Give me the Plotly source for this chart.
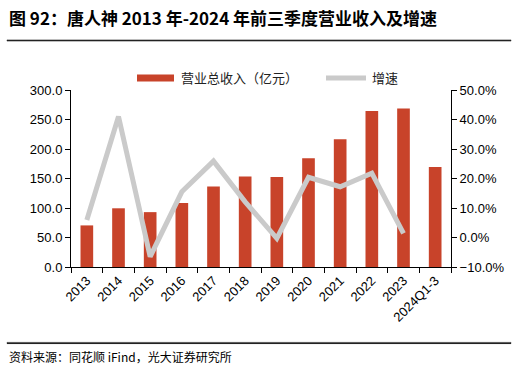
import plotly.graph_objects as go

categories = ["2013", "2014", "2015", "2016", "2017", "2018", "2019", "2020",
              "2021", "2022", "2023", "2024Q1-3"]
revenue = [70.5, 99.5, 93.0, 108.5, 136.5, 153.5, 152.5, 184.5, 216.5, 264.5, 268.5, 169.5]
growth_cats = categories[:11]
growth = [5.9, 41.0, -6.5, 15.5, 25.9, 12.1, -0.3, 20.4, 17.2, 21.8, 1.4]

BAR_COLOR = "#C8432A"
LINE_COLOR = "#CACACA"
CJK = "Noto Sans CJK SC"
LAT = "Liberation Sans"

L, R, T, B = 71, 451, 90, 267
W, H = 516, 376

def px(x):
    return x / W

def py(y):
    return 1 - y / H

XDOM = [px(L), px(R)]
YDOM = [py(B), py(T)]

fig = go.Figure()
fig.add_trace(go.Bar(x=categories, y=revenue, marker=dict(color=BAR_COLOR, line=dict(width=0)),
                     showlegend=False, yaxis="y", hoverinfo="skip"))
fig.add_trace(go.Scatter(x=growth_cats, y=growth, mode="lines",
                         line=dict(color=LINE_COLOR, width=5), showlegend=False, yaxis="y2",
                         hoverinfo="skip"))

fig.update_layout(
    width=W, height=H,
    margin=dict(l=0, r=0, t=0, b=0, pad=0, autoexpand=False),
    paper_bgcolor="white", plot_bgcolor="white",
    bargap=0.6,
    showlegend=False,
    font=dict(family=LAT, size=13, color="black"),
    xaxis=dict(type="category", domain=XDOM, tickangle=-45, showline=True, linecolor="black",
               linewidth=1, ticks="outside", ticklen=5, tickcolor="black", tickson="boundaries",
               showgrid=False, automargin=False, tickfont=dict(family=LAT, size=13)),
    yaxis=dict(range=[0, 300], domain=YDOM, dtick=50, tickformat=".1f", showline=True,
               linecolor="black", linewidth=1, ticks="outside", ticklen=5, tickcolor="black",
               showgrid=False, zeroline=False, automargin=False, tickfont=dict(family=LAT, size=13)),
    yaxis2=dict(range=[-10, 50], dtick=10, ticksuffix="%", tickformat=".1f", overlaying="y",
                side="right", showline=True, linecolor="black", linewidth=1, ticks="outside",
                ticklen=5, tickcolor="black", showgrid=False, zeroline=False, automargin=False,
                tickfont=dict(family=LAT, size=13)),
)

# manual legend
fig.add_shape(type="rect", xref="paper", yref="paper", x0=px(137), x1=px(174), y0=py(81.5), y1=py(74.5),
              fillcolor=BAR_COLOR, line=dict(width=0))
fig.add_annotation(text="营业总收入（亿元）", xref="paper", yref="paper", x=px(179), y=py(78),
                   xanchor="left", yanchor="middle", showarrow=False,
                   font=dict(family=CJK, size=13, color="#222"))
fig.add_shape(type="line", xref="paper", yref="paper", x0=px(326), x1=px(366), y0=py(78), y1=py(78),
              line=dict(color=LINE_COLOR, width=5))
fig.add_annotation(text="增速", xref="paper", yref="paper", x=px(370), y=py(78),
                   xanchor="left", yanchor="middle", showarrow=False,
                   font=dict(family=CJK, size=13, color="#222"))

fig.add_annotation(text="<b>图 92：唐人神 2013 年-2024 年前三季度营业收入及增速</b>",
                   xref="paper", yref="paper", x=px(7), y=py(18), xanchor="left", yanchor="middle",
                   showarrow=False, font=dict(family=CJK, size=17, color="black"))
fig.add_annotation(text="资料来源：同花顺 iFind，光大证券研究所",
                   xref="paper", yref="paper", x=px(7), y=py(356), xanchor="left", yanchor="middle",
                   showarrow=False, font=dict(family=CJK, size=12, color="black"))

# separator rules (drawn as annotation boxes and shapes)
for yy in (40.5, 343):
    fig.add_annotation(text=" ", xref="paper", yref="paper", x=px(7), y=py(yy),
                       xanchor="left", yanchor="middle", showarrow=False,
                       width=504, height=1, borderpad=0, borderwidth=0,
                       bgcolor="#222", font=dict(size=1))
    fig.add_shape(type="rect", xref="paper", yref="paper", x0=px(7), x1=px(511),
                  y0=py(yy + 0.6), y1=py(yy - 0.6), fillcolor="#222",
                  line=dict(color="#222", width=0.5))

fig.write_html("out.html", config={"displayModeBar": False, "staticPlot": True},
               post_script="document.body.style.margin='0';document.body.style.overflow='hidden';")
